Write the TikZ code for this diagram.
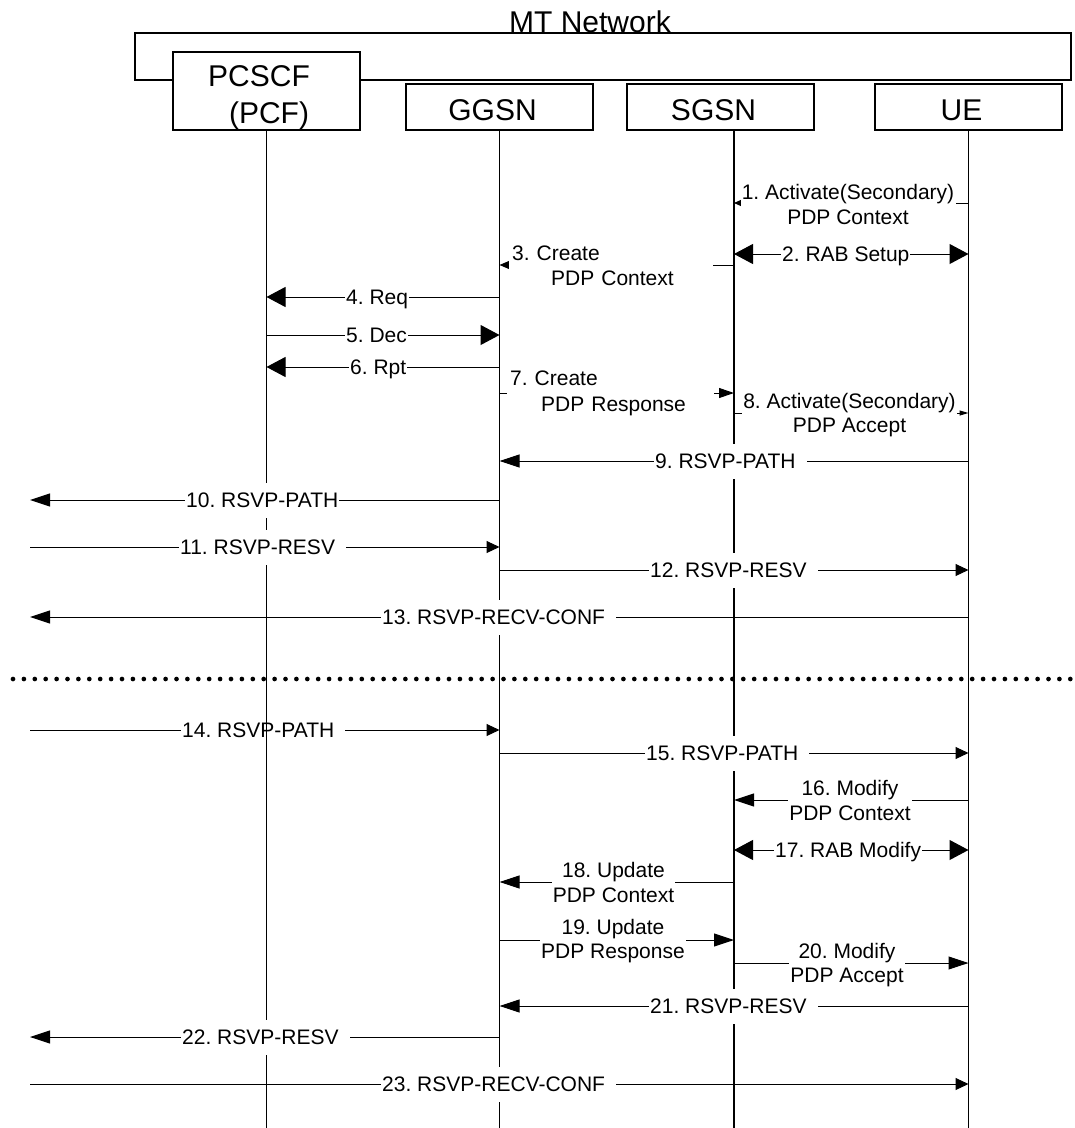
\documentclass[tikz,border=0pt]{standalone}
\usepackage{fontspec}
\setmainfont{Liberation Sans}
\usetikzlibrary{arrows.meta}
\frenchspacing
\begin{document}
\begin{tikzpicture}[x=1pt,y=-1pt,
  box/.style={draw,line width=1.4pt,fill=white,inner sep=0pt,font=\fontsize{30}{34}\selectfont},
  life/.style={line width=1.5pt},
  msg/.style={line width=1pt},
  lbl/.style={fill=white,inner xsep=1pt,inner ysep=10pt,anchor=west,font=\fontsize{21}{24}\selectfont,text height=15pt,text depth=0pt},
  lbltwo/.style={fill=white,inner xsep=1pt,inner ysep=3pt,align=center,font=\fontsize{21}{24.5}\selectfont},
  lblleft/.style={fill=white,inner xsep=3pt,inner ysep=3pt,anchor=west,align=left,font=\fontsize{21}{24.5}\selectfont},
  bigtip/.style={-{Triangle[length=19pt,width=20pt]}},
  bigboth/.style={{Triangle[length=19pt,width=20pt]}-{Triangle[length=19pt,width=20pt]}},
  medtip/.style={-{Triangle[length=20pt,width=13pt]}},
  shorttip/.style={-{Triangle[length=13pt,width=12pt]}},
  tipa/.style={-{Triangle[length=7pt,width=6pt]}},
  tipb/.style={-{Triangle[length=12pt,width=10pt]}},
  tipc/.style={-{Triangle[length=15pt,width=10pt]}},
  tipd/.style={-{Triangle[length=9pt,width=5pt]}}
]
\useasboundingbox (0,0) rectangle (1075,1128);

% frame and title
\node[draw,line width=1.4pt,minimum width=936pt,minimum height=47pt,inner sep=0pt] (net) at (603,56.5) {};
\node[anchor=base,font=\fontsize{30}{34}\selectfont,inner sep=0pt] (title) at (590,32) {MT Network};

% entity boxes
\node[box,minimum width=187pt,minimum height=78pt,align=center,font=\fontsize{30}{37}\selectfont,text depth=-4pt] (pc) at (266.5,91) {\rule{0pt}{27.5pt}PCSCF\hspace*{15pt}\\\hspace*{5pt}(PCF)};
\node[box,minimum width=187pt,minimum height=46pt,text height=27pt,text depth=0pt] (gg) at (499.5,107) {GGSN\hspace*{14pt}};
\node[box,minimum width=187pt,minimum height=46pt,text height=27pt,text depth=0pt] (sg) at (720.5,107) {SGSN\hspace*{14pt}};
\node[box,minimum width=187pt,minimum height=46pt,text height=27pt,text depth=0pt] (ue) at (968.5,107) {UE\hspace*{14pt}};

\coordinate (sgL) at (734,130);
\coordinate (bot) at (0,1128);
\coordinate (L) at (30,0);

% lifelines
\draw[life] (pc.south) -- (pc.south |- bot);
\draw[life] (gg.south) -- (gg.south |- bot);
\draw[life] (sgL) -- (sgL |- bot);
\draw[life] (ue.south) -- (ue.south |- bot);

% rows
\coordinate (y1) at (0,203);
\coordinate (y2) at (0,254);
\coordinate (y3) at (0,265);
\coordinate (y4) at (0,297);
\coordinate (y5) at (0,335);
\coordinate (y6) at (0,367);
\coordinate (y7) at (0,393);
\coordinate (y8) at (0,413);
\coordinate (y9) at (0,461);
\coordinate (y10) at (0,500);
\coordinate (y11) at (0,547);
\coordinate (y12) at (0,570);
\coordinate (y13) at (0,617);
\coordinate (y14) at (0,730);
\coordinate (y15) at (0,753);
\coordinate (y16) at (0,800);
\coordinate (y17) at (0,850);
\coordinate (y18) at (0,882);
\coordinate (y19) at (0,940);
\coordinate (y20) at (0,963);
\coordinate (y21) at (0,1006);
\coordinate (y22) at (0,1037);
\coordinate (y23) at (0,1084);

% messages
\draw[msg,tipa] (ue |- y1) -- (sgL |- y1);
\draw[msg,bigboth] (sgL |- y2) -- (ue |- y2);
\draw[msg,tipb] (sgL |- y3) -- (gg |- y3);
\draw[msg,bigtip] (gg |- y4) -- (pc |- y4);
\draw[msg,bigtip] (pc |- y5) -- (gg |- y5);
\draw[msg,bigtip] (gg |- y6) -- (pc |- y6);
\draw[msg,tipc] (gg |- y7) -- (sgL |- y7);
\draw[msg,tipd] (sgL |- y8) -- (ue |- y8);
\draw[msg,medtip] (ue |- y9) -- (gg |- y9);
\draw[msg,medtip] (gg |- y10) -- (L |- y10);
\draw[msg,shorttip] (L |- y11) -- (gg |- y11);
\draw[msg,shorttip] (gg |- y12) -- (ue |- y12);
\draw[msg,medtip] (ue |- y13) -- (L |- y13);
\draw[msg,shorttip] (L |- y14) -- (gg |- y14);
\draw[msg,shorttip] (gg |- y15) -- (ue |- y15);
\draw[msg,medtip] (ue |- y16) -- (sgL |- y16);
\draw[msg,bigboth] (sgL |- y17) -- (ue |- y17);
\draw[msg,medtip] (sgL |- y18) -- (gg |- y18);
\draw[msg,medtip] (gg |- y19) -- (sgL |- y19);
\draw[msg,medtip] (sgL |- y20) -- (ue |- y20);
\draw[msg,medtip] (ue |- y21) -- (gg |- y21);
\draw[msg,medtip] (gg |- y22) -- (L |- y22);
\draw[msg,shorttip] (L |- y23) -- (ue |- y23);

% labels
\node[lbltwo,minimum width=215pt] (t1) at (848,204.5) {1. Activate(Secondary)\\PDP Context};
\node[lbl,inner ysep=5pt] (t2) at (781,254) {2. RAB Setup};
\node[lblleft,text width=198pt] (t3) at (509,266) {3. Create\\\hspace*{39pt}PDP Context};
\node[lbl,inner ysep=5pt] (t4) at (345,297) {4. Req};
\node[lbl,inner ysep=5pt] (t5) at (345,335) {5. Dec};
\node[lbl,inner ysep=5pt] (t6) at (349,367) {6. Rpt};
\node[lblleft,text width=201pt] (t7) at (507,393.5) {7. Create\\[2pt]\hspace*{31pt}PDP Response};
\node[lbltwo,minimum width=215pt] (t8) at (849.5,415) {8. Activate(Secondary)\\PDP Accept};
\node[lbl] (t9) at (654,461) {9. RSVP-PATH\hspace*{10pt}};
\node[lbl] (t10) at (185,500) {10. RSVP-PATH};
\node[lbl] (t11) at (179,547) {11. RSVP-RESV\hspace*{10pt}};
\node[lbl] (t12) at (649,570) {12. RSVP-RESV\hspace*{10pt}};
\node[lbl] (t13) at (381,617) {13. RSVP-RECV-CONF\hspace*{10pt}};
\node[lbl] (t14) at (181,730) {14. RSVP-PATH\hspace*{10pt}};
\node[lbl] (t15) at (645,753) {15. RSVP-PATH\hspace*{10pt}};
\node[lbltwo] (t16) at (850,800.5) {16. Modify\\PDP Context};
\node[lbl,inner ysep=5pt] (t17) at (774,850) {17. RAB Modify};
\node[lbltwo] (t18) at (613.5,882.5) {18. Update\\PDP Context};
\node[lbltwo] (t19) at (613,941) {19. Update\\PDP Response};
\node[lbltwo] (t20) at (847,965) {20. Modify\\PDP Accept};
\node[lbl] (t21) at (649,1006) {21. RSVP-RESV\hspace*{10pt}};
\node[lbl] (t22) at (181,1037) {22. RSVP-RESV\hspace*{10pt}};
\node[lbl] (t23) at (381,1084) {23. RSVP-RECV-CONF\hspace*{10pt}};

% lifeline drawn over label 14
\draw[life] (pc.south |- t14.north) -- (pc.south |- t14.south);

% separator
\coordinate (dl) at (13,679);
\coordinate (dr) at (1075,679);
\draw[line width=4.7pt,line cap=round,dash pattern=on 0pt off 10.9pt] (dl) -- (dr);
\end{tikzpicture}
\end{document}
